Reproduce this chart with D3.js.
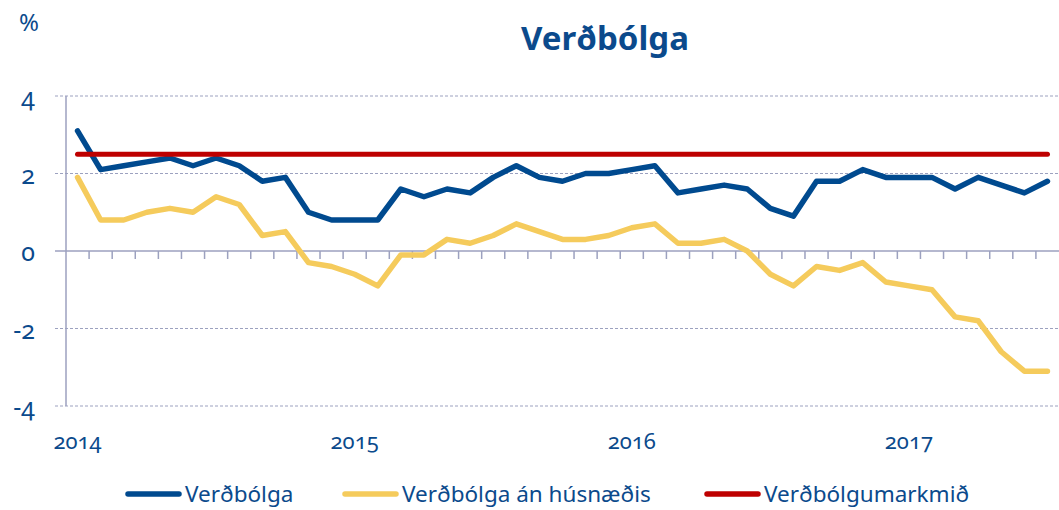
<!DOCTYPE html>
<html>
<head>
<meta charset="utf-8">
<script src="https://cdn.jsdelivr.net/npm/d3@7"></script>
<style>
  body { margin: 0; background: #fff; }
  text { font-family: "Noto Sans", sans-serif; fill: #0b4a8c; font-variant-numeric: oldstyle-nums; }
</style>
</head>
<body>
<svg width="1059" height="510"></svg>
<script>
// months (Jan 2014 - Jul 2017)
var months = [
  "2014-01","2014-02","2014-03","2014-04","2014-05","2014-06","2014-07","2014-08","2014-09","2014-10","2014-11","2014-12",
  "2015-01","2015-02","2015-03","2015-04","2015-05","2015-06","2015-07","2015-08","2015-09","2015-10","2015-11","2015-12",
  "2016-01","2016-02","2016-03","2016-04","2016-05","2016-06","2016-07","2016-08","2016-09","2016-10","2016-11","2016-12",
  "2017-01","2017-02","2017-03","2017-04","2017-05","2017-06","2017-07"
];

// Verðbólga
var inflation = [
  3.1, 2.1, 2.2, 2.3, 2.4, 2.2, 2.4, 2.2, 1.8, 1.9, 1.0, 0.8,
  0.8, 0.8, 1.6, 1.4, 1.6, 1.5, 1.9, 2.2, 1.9, 1.8, 2.0, 2.0,
  2.1, 2.2, 1.5, 1.6, 1.7, 1.6, 1.1, 0.9, 1.8, 1.8, 2.1, 1.9,
  1.9, 1.9, 1.6, 1.9, 1.7, 1.5, 1.8
];

// Verðbólga án húsnæðis
var inflationExHousing = [
  1.9, 0.8, 0.8, 1.0, 1.1, 1.0, 1.4, 1.2, 0.4, 0.5, -0.3, -0.4,
  -0.6, -0.9, -0.1, -0.1, 0.3, 0.2, 0.4, 0.7, 0.5, 0.3, 0.3, 0.4,
  0.6, 0.7, 0.2, 0.2, 0.3, 0.0, -0.6, -0.9, -0.4, -0.5, -0.3, -0.8,
  -0.9, -1.0, -1.7, -1.8, -2.6, -3.1, -3.1
];

// Verðbólgumarkmið
var target = [
  2.5, 2.5, 2.5, 2.5, 2.5, 2.5, 2.5, 2.5, 2.5, 2.5, 2.5, 2.5,
  2.5, 2.5, 2.5, 2.5, 2.5, 2.5, 2.5, 2.5, 2.5, 2.5, 2.5, 2.5,
  2.5, 2.5, 2.5, 2.5, 2.5, 2.5, 2.5, 2.5, 2.5, 2.5, 2.5, 2.5,
  2.5, 2.5, 2.5, 2.5, 2.5, 2.5, 2.5
];

var yTicks = [-4, -2, 0, 2, 4];
var yearLabels = {"2014-01": "2014", "2015-01": "2015", "2016-01": "2016", "2017-01": "2017"};

var seriesNames = ["Verðbólga", "Verðbólga án húsnæðis", "Verðbólgumarkmið"];
var colors = ["#004a8f", "#f5cb5c", "#be0000"];

var svg = d3.select("svg");

// plot area
var plotLeft = 66, plotRight = 1059, plotTop = 96, plotBottom = 406;

var x = d3.scaleBand().domain(months).range([plotLeft, plotRight]).padding(0);
var y = d3.scaleLinear().domain([-4, 4]).range([plotBottom, plotTop]);

// gridlines (dashed), 0 is drawn as the axis
svg.append("g").selectAll("line")
  .data(yTicks.filter(function (d) { return d !== 0; }))
  .enter().append("line")
  .attr("x1", plotLeft - 11).attr("x2", plotRight)
  .attr("y1", function (d) { return y(d); })
  .attr("y2", function (d) { return y(d); })
  .attr("stroke", "#9ca1bf")
  .attr("stroke-width", 1)
  .attr("stroke-dasharray", "3,2");

// y axis line
svg.append("line")
  .attr("x1", plotLeft).attr("x2", plotLeft)
  .attr("y1", y(4)).attr("y2", y(-4))
  .attr("stroke", "#9ca1bf").attr("stroke-width", 1.5);

// x axis at zero
svg.append("line")
  .attr("x1", plotLeft - 11).attr("x2", plotRight)
  .attr("y1", y(0)).attr("y2", y(0))
  .attr("stroke", "#9ca1bf").attr("stroke-width", 1.5);

// month tick marks between categories
svg.append("g").selectAll("line")
  .data(months.slice(1))
  .enter().append("line")
  .attr("x1", function (d) { return x(d); })
  .attr("x2", function (d) { return x(d); })
  .attr("y1", y(0)).attr("y2", y(0) + 8)
  .attr("stroke", "#9ca1bf").attr("stroke-width", 1.5);

// y tick labels
svg.append("g").selectAll("text")
  .data(yTicks)
  .enter().append("text")
  .attr("x", 35)
  .attr("y", function (d) { return y(d) + 10; })
  .attr("text-anchor", "end")
  .style("font-size", "25px")
  .text(function (d) { return d < 0 ? "-" + Math.abs(d) : d; });

// year labels
svg.append("g").selectAll("text")
  .data(months.filter(function (m) { return yearLabels[m]; }))
  .enter().append("text")
  .attr("x", function (d) { return x(d) + x.bandwidth() / 2; })
  .attr("y", 449)
  .attr("text-anchor", "middle")
  .style("font-size", "22px")
  .text(function (d) { return yearLabels[d]; });

// title and unit
svg.append("text").attr("x", 605).attr("y", 50)
  .attr("text-anchor", "middle")
  .style("font-size", "33px").style("font-weight", "bold")
  .text("Verðbólga");
svg.append("text").attr("x", 19).attr("y", 31)
  .style("font-size", "24px")
  .text("%");

// lines
var line = d3.line()
  .x(function (d, i) { return x(months[i]) + x.bandwidth() / 2; })
  .y(function (d) { return y(d); });

[inflationExHousing, inflation, target].forEach(function (s) {
  var idx = s === inflation ? 0 : (s === inflationExHousing ? 1 : 2);
  svg.append("path").datum(s)
    .attr("d", line)
    .attr("fill", "none")
    .attr("stroke", colors[idx])
    .attr("stroke-width", idx === 2 ? 5 : 5.5)
    .attr("stroke-linejoin", "round")
    .attr("stroke-linecap", "round");
});

// legend
var legendX = [126, 343, 705];
var legend = svg.append("g").selectAll("g")
  .data(seriesNames)
  .enter().append("g")
  .attr("transform", function (d, i) { return "translate(" + legendX[i] + ",494)"; });

legend.append("line")
  .attr("x1", 2).attr("x2", 53)
  .attr("stroke", function (d, i) { return colors[i]; })
  .attr("stroke-width", 5.5)
  .attr("stroke-linecap", "round");

legend.append("text")
  .attr("x", 59).attr("y", 8)
  .style("font-size", "22.5px")
  .text(function (d) { return d; });
</script>
</body>
</html>
